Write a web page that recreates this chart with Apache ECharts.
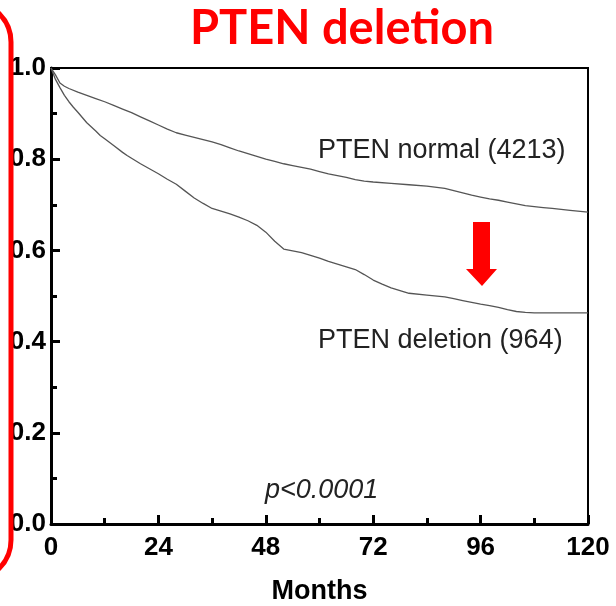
<!DOCTYPE html>
<html style="height: 100%">
    <head>
        <meta charset="utf-8">
    </head>
    <body style="height: 100%; margin: 0; background: #fff">
        <div id="container" style="height: 606px; width: 616px;"></div>

        <script type="text/javascript" src="https://cdn.jsdelivr.net/npm/echarts@6/dist/echarts.min.js"></script>
        <script type="text/javascript">
var dom = document.getElementById("container");
var myChart = echarts.init(dom);

// survival curves (months, fraction surviving)
var normalMonths = [0, 1, 2, 3, 4, 6, 8, 10, 12, 14, 16, 18, 20, 22, 24, 26, 28, 30, 32, 34, 36, 38, 40, 42, 44, 46, 48, 50, 52, 54, 56, 58, 60, 62, 64, 66, 68, 70, 72, 76, 80, 84, 88, 90, 92, 94, 96, 98, 100, 102, 104, 106, 108, 110, 112, 116, 120];
var normalSurv = [1.0, 0.985, 0.967, 0.96, 0.955, 0.947, 0.94, 0.933, 0.926, 0.918, 0.91, 0.902, 0.893, 0.884, 0.875, 0.866, 0.858, 0.853, 0.848, 0.843, 0.838, 0.832, 0.825, 0.818, 0.812, 0.806, 0.8, 0.795, 0.79, 0.786, 0.782, 0.778, 0.773, 0.768, 0.764, 0.76, 0.755, 0.752, 0.75, 0.747, 0.744, 0.741, 0.736, 0.731, 0.726, 0.721, 0.717, 0.713, 0.71, 0.706, 0.702, 0.698, 0.696, 0.694, 0.692, 0.688, 0.684];

var deletionMonths = [0, 1, 2, 3, 4, 5, 6, 8, 10, 11, 12, 14, 16, 17, 18, 20, 22, 24, 26, 28, 30, 32, 34, 36, 38, 40, 42, 44, 46, 48, 50, 52, 54, 56, 58, 60, 62, 64, 66, 68, 70, 72, 74, 76, 78, 80, 84, 88, 90, 92, 94, 96, 98, 100, 102, 104, 106, 108, 114, 120];
var deletionSurv = [1.0, 0.975, 0.957, 0.94, 0.926, 0.914, 0.903, 0.88, 0.862, 0.852, 0.845, 0.83, 0.815, 0.808, 0.802, 0.79, 0.779, 0.768, 0.756, 0.745, 0.73, 0.715, 0.703, 0.692, 0.686, 0.68, 0.673, 0.665, 0.655, 0.64, 0.62, 0.603, 0.599, 0.595, 0.589, 0.583, 0.576, 0.57, 0.564, 0.558, 0.547, 0.535, 0.526, 0.518, 0.512, 0.506, 0.502, 0.498, 0.494, 0.49, 0.486, 0.482, 0.479, 0.475, 0.47, 0.466, 0.464, 0.463, 0.463, 0.463];

var xTicks = [0, 24, 48, 72, 96, 120];
var yTicks = [0, 0.2, 0.4, 0.6, 0.8, 1.0];

function pairs(xs, ys) {
	return xs.map(function (x, i) { return [x, ys[i]]; });
}

var labelFont = {color: '#000', fontSize: 26, fontWeight: 'bold', fontFamily: 'Liberation Sans, Arial, sans-serif'};
var noteFont = {fill: '#222', fontSize: 27, fontFamily: 'Liberation Sans Narrow, Liberation Sans, sans-serif'};

var option = {
	backgroundColor: '#fff',
	animation: false,
	title: {
		text: 'PTEN deletion',
		left: 337,
		top: 0,
		textAlign: 'center',
		textStyle: {color: '#ff0000', fontSize: 47, fontWeight: 'bold', fontFamily: 'Lato, Open Sans, sans-serif'}
	},
	grid: {
		left: 51, right: 28, top: 68, bottom: 82,
		outerBoundsMode: 'none',
		show: true, borderColor: '#000', borderWidth: 2
	},
	xAxis: {
		type: 'value',
		min: xTicks[0], max: xTicks[xTicks.length - 1], interval: 24,
		name: 'Months', nameLocation: 'middle', nameGap: 54,
		nameTextStyle: {color: '#000', fontSize: 27, fontWeight: 'bold', fontFamily: 'Liberation Sans, Arial, sans-serif'},
		axisLine: {lineStyle: {color: '#000', width: 3}},
		axisTick: {inside: true, length: 9, lineStyle: {color: '#000', width: 3}},
		minorTick: {show: true, splitNumber: 2, length: 6, lineStyle: {color: '#000', width: 3}},
		splitLine: {show: false},
		axisLabel: Object.assign({margin: 11}, labelFont)
	},
	yAxis: {
		type: 'value',
		min: yTicks[0], max: yTicks[yTicks.length - 1], interval: 0.2,
		axisLine: {show: true, lineStyle: {color: '#000', width: 3}},
		axisTick: {show: true, inside: true, length: 9, lineStyle: {color: '#000', width: 3}},
		minorTick: {show: true, splitNumber: 2, length: 6, lineStyle: {color: '#000', width: 3}},
		splitLine: {show: false},
		axisLabel: Object.assign({margin: 5, formatter: function (v) { return v.toFixed(1); }}, labelFont)
	},
	series: [
		{
			name: 'PTEN normal',
			type: 'line', showSymbol: false,
			lineStyle: {color: '#555', width: 1.3},
			data: pairs(normalMonths, normalSurv)
		},
		{
			name: 'PTEN deletion',
			type: 'line', showSymbol: false,
			lineStyle: {color: '#555', width: 1.3},
			data: pairs(deletionMonths, deletionSurv)
		}
	],
	graphic: [
		{type: 'text', left: 318, top: 137, style: Object.assign({text: 'PTEN normal (4213)'}, noteFont)},
		{type: 'text', left: 318, top: 327, style: Object.assign({text: 'PTEN deletion (964)'}, noteFont)},
		{type: 'text', left: 265, top: 477, style: Object.assign({text: 'p<0.0001', fontStyle: 'italic'}, noteFont)},
		{
			type: 'polygon',
			shape: {points: [[473, 222], [490, 222], [490, 269], [497, 269], [482, 286], [466, 269], [473, 269]]},
			style: {fill: '#ff0000'}
		},
		{
			type: 'rect', z: 100,
			shape: {x: -100, y: 2, width: 111, height: 578, r: 40},
			style: {fill: 'none', stroke: '#ff0000', lineWidth: 5}
		}
	]
};

myChart.setOption(option);
        </script>
    </body>
</html>
